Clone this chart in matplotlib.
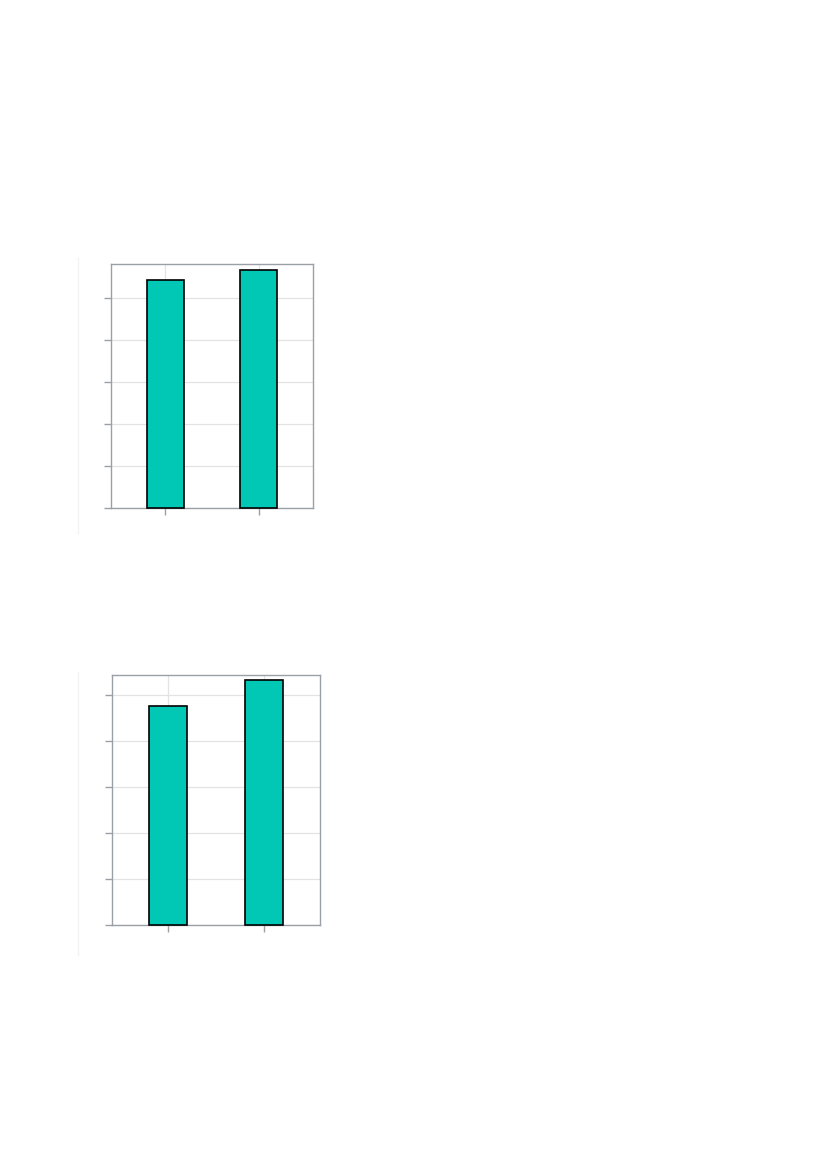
import matplotlib
matplotlib.use("Agg")
import matplotlib.pyplot as plt
from matplotlib.lines import Line2D

# Données (aucun texte visible)
categories = [0, 1]
valeurs_haut = [5.42, 5.68]
valeurs_bas = [4.76, 5.33]
y_ticks = [0, 1, 2, 3, 4, 5]

couleur_barre = "#00c8b4"
couleur_axe = "#9aa0a6"
couleur_grille = "#e3e3e3"

fig = plt.figure(figsize=(8.27, 11.69), dpi=100)


def dessiner(rect, valeurs, ymax):
    ax = fig.add_axes(rect)
    ax.bar(categories, valeurs, width=0.4, color=couleur_barre,
           edgecolor="black", linewidth=1.2, zorder=3, clip_on=False)
    ax.set_xlim(-0.58, 1.58)
    ax.set_ylim(0, ymax)
    ax.set_xticks(categories)
    ax.set_yticks(y_ticks)
    ax.set_xticklabels([])
    ax.set_yticklabels([])
    ax.grid(True, color=couleur_grille, linewidth=0.9, zorder=0)
    for s in ax.spines.values():
        s.set_color(couleur_axe)
        s.set_linewidth(1.0)
    ax.tick_params(color=couleur_axe, length=5, width=1.0)
    return ax


dessiner([0.1342, 0.5654, 0.2443, 0.2087], valeurs_haut, 5.81)
dessiner([0.1358, 0.2085, 0.2511, 0.2141], valeurs_bas, 5.44)

# fines lignes verticales à gauche de chaque graphique
for y0, y1 in [(258, 533), (672, 955)]:
    fig.add_artist(Line2D([78 / 827, 78 / 827], [1 - y0 / 1169, 1 - y1 / 1169],
                          color="#f3f3f3", linewidth=1.0))

fig.savefig("out.png", dpi=100)
